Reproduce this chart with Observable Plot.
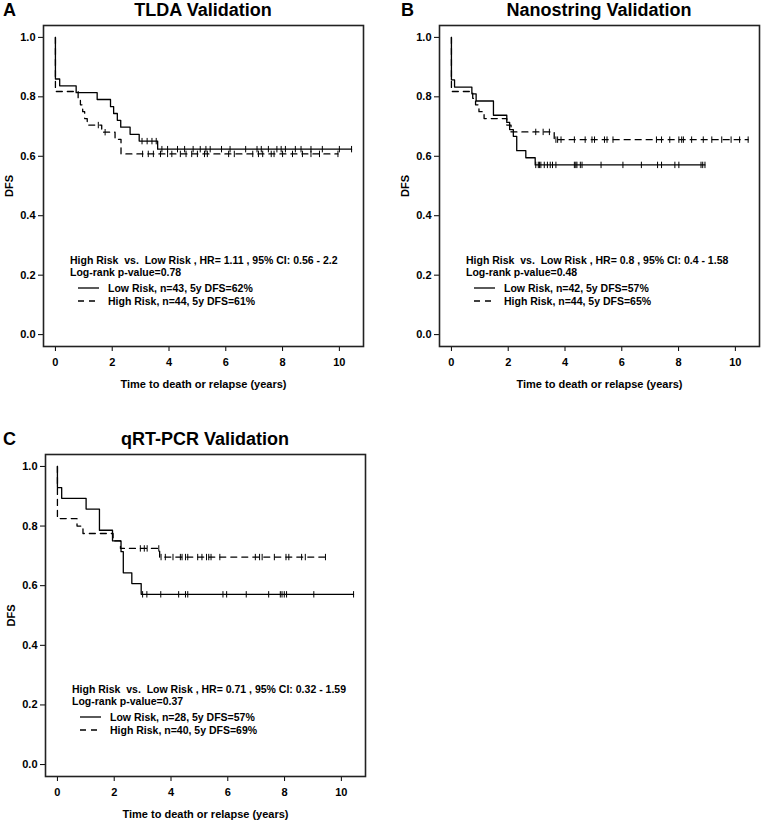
<!DOCTYPE html>
<html><head><meta charset="utf-8">
<script src="https://cdn.jsdelivr.net/npm/d3@7"></script>
<script src="https://cdn.jsdelivr.net/npm/@observablehq/plot@0.6"></script>
<style>
body{margin:0;background:#fff;font-family:"Liberation Sans",Arial,sans-serif;}
#root{position:relative;width:762px;height:821px;overflow:hidden;background:#fff;}
.abs{position:absolute;}
.letter{font-weight:bold;font-size:18px;line-height:20px;}
.title{font-weight:bold;font-size:18px;line-height:20px;text-align:center;white-space:nowrap;}
.ann{font-weight:bold;font-size:10.5px;white-space:pre;line-height:12px;color:#000;}
</style></head><body><div id="root"></div>
<script>
// ---------- data ----------
const xTicks = [0, 2, 4, 6, 8, 10];
const yTicks = [0, 0.2, 0.4, 0.6, 0.8, 1.0];
const xLabel = "Time to death or relapse (years)";
const yLabel = "DFS";

// Panel A — TLDA Validation
const aTitle = "TLDA Validation";
const aLowTime = [0, 0, 0.15, 0.73, 1.47, 1.94, 2.05, 2.18, 2.30, 2.63, 2.95, 3.60];
const aLowSurv = [1.0, 0.860, 0.837, 0.814, 0.791, 0.767, 0.744, 0.721, 0.698, 0.674, 0.651, 0.624];
const aLowEnd = 10.43;
const aLowCens = [3.05, 3.23, 3.40, 3.55, 3.75, 3.95, 4.30, 4.55, 4.85, 5.10, 5.30, 5.45, 5.85, 6.15, 6.70, 7.10, 7.25, 7.50, 7.80, 7.95, 8.10, 8.45, 8.65, 9.00, 9.40, 10.00, 10.43];
const aHighTime = [0, 0, 0.80, 0.88, 0.96, 1.03, 1.12, 1.63, 2.10, 2.31];
const aHighSurv = [1.0, 0.818, 0.795, 0.773, 0.750, 0.727, 0.705, 0.681, 0.657, 0.608];
const aHighEnd = 9.95;
const aHighCens = [1.51, 1.75, 3.07, 3.27, 3.45, 3.70, 3.95, 4.10, 4.40, 4.60, 4.80, 5.00, 5.25, 5.35, 6.10, 6.30, 6.95, 7.15, 7.30, 7.60, 7.70, 8.00, 8.35, 8.70, 9.00, 9.30, 9.95];
const aText = ["High Risk  vs.  Low Risk , HR= 1.11 , 95% CI: 0.56 - 2.2", "Log-rank p-value=0.78"];
const aLegend = ["Low Risk, n=43, 5y DFS=62%", "High Risk, n=44, 5y DFS=61%"];

// Panel B — Nanostring Validation
const bTitle = "Nanostring Validation";
const bLowTime = [0, 0, 0.11, 0.72, 0.87, 1.48, 1.95, 2.05, 2.18, 2.30, 2.62, 2.95];
const bLowSurv = [1.0, 0.857, 0.833, 0.810, 0.786, 0.738, 0.714, 0.690, 0.667, 0.619, 0.595, 0.571];
const bLowEnd = 8.93;
const bLowCens = [2.97, 3.06, 3.10, 3.15, 3.27, 3.38, 3.48, 3.56, 3.68, 4.33, 4.38, 4.42, 4.54, 4.60, 5.27, 6.04, 6.69, 7.26, 7.40, 7.87, 8.01, 8.79, 8.85, 8.93];
const bHighTime = [0, 0, 0.75, 0.85, 0.97, 1.15, 1.95, 2.10, 3.62];
const bHighSurv = [1.0, 0.818, 0.795, 0.773, 0.750, 0.727, 0.705, 0.682, 0.656];
const bHighEnd = 10.45;
const bHighCens = [2.97, 3.23, 3.45, 3.68, 3.74, 3.86, 4.33, 4.71, 4.95, 5.04, 5.39, 5.48, 5.69, 7.22, 7.40, 7.69, 8.01, 8.11, 8.17, 8.46, 8.87, 9.17, 9.52, 9.85, 10.15, 10.45];
const bText = ["High Risk  vs.  Low Risk , HR= 0.8 , 95% CI: 0.4 - 1.58", "Log-rank p-value=0.48"];
const bLegend = ["Low Risk, n=42, 5y DFS=57%", "High Risk, n=44, 5y DFS=65%"];

// Panel C — qRT-PCR Validation
const cTitle = "qRT-PCR Validation";
const cLowTime = [0, 0, 0.15, 1.01, 1.48, 1.94, 2.24, 2.32, 2.62, 2.95];
const cLowSurv = [1.0, 0.929, 0.893, 0.857, 0.786, 0.750, 0.714, 0.643, 0.607, 0.571];
const cLowEnd = 10.43;
const cLowCens = [3.00, 3.15, 3.64, 4.27, 4.51, 4.59, 5.83, 5.96, 6.65, 7.44, 7.85, 7.91, 7.99, 8.07, 9.03, 10.43];
const cHighTime = [0, 0, 0.69, 0.90, 1.96, 2.22, 3.60];
const cHighSurv = [1.0, 0.825, 0.800, 0.775, 0.750, 0.725, 0.696];
const cHighEnd = 9.44;
const cHighCens = [2.92, 3.06, 3.16, 3.57, 3.65, 3.80, 4.07, 4.33, 4.39, 4.51, 4.59, 4.94, 5.09, 5.25, 5.33, 5.41, 5.72, 6.97, 7.12, 7.21, 7.64, 8.05, 8.15, 8.60, 8.73, 9.44];
const cText = ["High Risk  vs.  Low Risk , HR= 0.71 , 95% CI: 0.32 - 1.59", "Log-rank p-value=0.37"];
const cLegend = ["Low Risk, n=28, 5y DFS=57%", "High Risk, n=40, 5y DFS=69%"];

// ---------- helpers ----------
function curvePoints(times, surv, end) {
  const pts = times.map((t, i) => ({t, s: surv[i]}));
  pts.push({t: end, s: surv[surv.length - 1]});
  return pts;
}
function censPoints(cens, times, surv) {
  return cens.map(t => {
    let s = surv[0];
    for (let i = 0; i < times.length; i++) if (times[i] <= t) s = surv[i];
    return {t, s};
  });
}
const vbar = {draw(ctx, size) { const h = Math.sqrt(size / Math.PI); ctx.moveTo(0, -h); ctx.lineTo(0, h); }};
const DASH = "6,5";
const root = document.getElementById("root");

function addPanel(cfg) {
  const {left, top, width, height, frameRight, frameBottom, letter, letterX, title, low, high, text, legend} = cfg;
  const mL = 43, mR = width - frameRight, mT = 25, mB = height - frameBottom;
  const lowPts = curvePoints(low.time, low.surv, low.end);
  const highPts = curvePoints(high.time, high.surv, high.end);
  const chart = Plot.plot({
    width, height, marginLeft: mL, marginRight: mR, marginTop: mT, marginBottom: mB,
    style: {fontFamily: "'Liberation Sans', Arial, sans-serif", fontSize: "11px", fontWeight: "bold", color: "#000", background: "transparent", overflow: "visible"},
    x: {domain: [-0.42, 10.85], ticks: xTicks, tickFormat: "d", label: xLabel, labelAnchor: "center", labelArrow: "none", labelOffset: 41, tickSize: 5, tickPadding: 7},
    y: {domain: [-0.04, 1.04], ticks: yTicks, tickFormat: ".1f", label: yLabel, labelAnchor: "center", labelArrow: "none", labelOffset: 38, tickSize: 5, tickPadding: 3},
    marks: [
      Plot.frame({stroke: "#222", strokeWidth: 1.6}),
      Plot.line(highPts, {x: "t", y: "s", curve: "step-after", stroke: "#000", strokeWidth: 1.3, strokeDasharray: DASH}),
      Plot.line(lowPts, {x: "t", y: "s", curve: "step-after", stroke: "#000", strokeWidth: 1.3}),
      Plot.dot(censPoints(low.cens, low.time, low.surv), {x: "t", y: "s", symbol: vbar, r: 3.2, fill: "none", stroke: "#000", strokeWidth: 1}),
      Plot.dot(censPoints(high.cens, high.time, high.surv), {x: "t", y: "s", symbol: vbar, r: 3.2, fill: "none", stroke: "#000", strokeWidth: 1})
    ]
  });
  chart.classList.add("abs");
  chart.style.left = left + "px"; chart.style.top = top + "px";
  root.appendChild(chart);

  const fl = left + mL, ft = top + mT, fw = width - mL - mR;
  const L = document.createElement("div"); L.className = "abs letter"; L.textContent = letter;
  L.style.left = letterX + "px"; L.style.top = (top + 0) + "px"; root.appendChild(L);
  const T = document.createElement("div"); T.className = "abs title"; T.textContent = title;
  T.style.left = fl + "px"; T.style.width = fw + "px"; T.style.top = (top + 0) + "px"; root.appendChild(T);

  text.forEach((s, i) => {
    const d = document.createElement("div"); d.className = "abs ann"; d.textContent = s;
    d.style.left = (fl + 27) + "px"; d.style.top = (ft + 229 + i * 11.7) + "px"; root.appendChild(d);
  });
  legend.forEach((s, i) => {
    const y = ft + 263.3 + i * 12.6;
    const d = document.createElement("div"); d.className = "abs ann"; d.textContent = s;
    d.style.left = (fl + 65) + "px"; d.style.top = (y - 6) + "px"; root.appendChild(d);
    const svg = d3.create("svg").attr("width", 22).attr("height", 4).attr("class", "abs")
      .style("left", (fl + 34.5) + "px").style("top", (y - 2) + "px");
    svg.append("line").attr("x1", 0).attr("x2", 21).attr("y1", 2).attr("y2", 2)
      .attr("stroke", "#000").attr("stroke-width", 1.3).attr("stroke-dasharray", i === 0 ? null : DASH);
    root.appendChild(svg.node());
  });
}

addPanel({left: 0, top: 0, width: 370, height: 400, frameRight: 363, frameBottom: 346, letter: "A", letterX: 3, title: aTitle,
  low: {time: aLowTime, surv: aLowSurv, end: aLowEnd, cens: aLowCens},
  high: {time: aHighTime, surv: aHighSurv, end: aHighEnd, cens: aHighCens}, text: aText, legend: aLegend});
addPanel({left: 396, top: 0, width: 366, height: 400, frameRight: 363, frameBottom: 346, letter: "B", letterX: 401, title: bTitle,
  low: {time: bLowTime, surv: bLowSurv, end: bLowEnd, cens: bLowCens},
  high: {time: bHighTime, surv: bHighSurv, end: bHighEnd, cens: bHighCens}, text: bText, legend: bLegend});
addPanel({left: 2, top: 429, width: 370, height: 392, frameRight: 363, frameBottom: 347, letter: "C", letterX: 3, title: cTitle,
  low: {time: cLowTime, surv: cLowSurv, end: cLowEnd, cens: cLowCens},
  high: {time: cHighTime, surv: cHighSurv, end: cHighEnd, cens: cHighCens}, text: cText, legend: cLegend});
</script></body></html>
